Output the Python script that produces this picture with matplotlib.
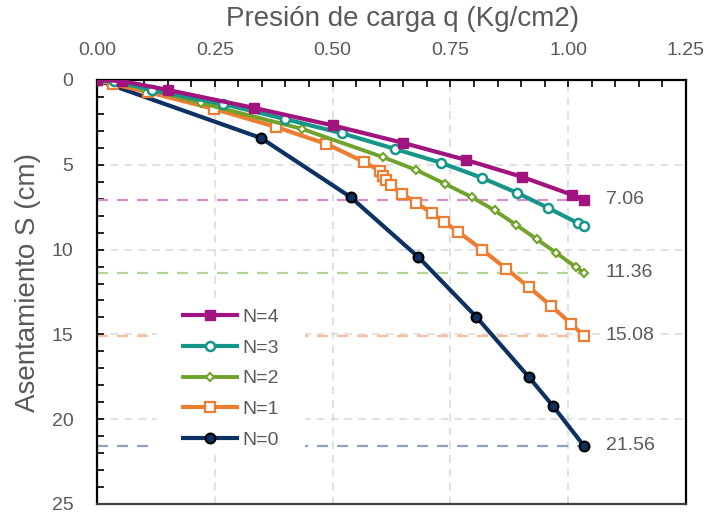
import matplotlib
matplotlib.use("Agg")
import matplotlib.pyplot as plt
from matplotlib.ticker import MultipleLocator
from matplotlib.patches import Rectangle

plt.rcParams['font.family'] = ['Liberation Sans', 'DejaVu Sans']

# Pressure q (Kg/cm2) and settlement S (cm) for each number of layers N
q_n4 = [0.0, 0.053, 0.151, 0.334, 0.501, 0.650, 0.784, 0.903, 1.009, 1.033]
s_n4 = [0.0, 0.06, 0.59, 1.65, 2.68, 3.71, 4.72, 5.72, 6.78, 7.06]

q_n3 = [0.0, 0.036, 0.117, 0.268, 0.399, 0.521, 0.633, 0.731, 0.818, 0.892, 0.958, 1.020, 1.033]
s_n3 = [0.0, 0.05, 0.59, 1.42, 2.30, 3.15, 4.07, 4.89, 5.78, 6.66, 7.55, 8.43, 8.61]

q_n2 = [0.0, 0.098, 0.221, 0.436, 0.606, 0.678, 0.739, 0.795, 0.844, 0.890, 0.933, 0.975, 1.016, 1.033]
s_n2 = [0.0, 0.47, 1.36, 2.89, 4.54, 5.31, 6.13, 6.90, 7.69, 8.55, 9.38, 10.20, 11.03, 11.36]

q_n1 = [0.0, 0.034, 0.108, 0.249, 0.380, 0.487, 0.567, 0.601, 0.606, 0.614, 0.623, 0.648,
        0.678, 0.710, 0.737, 0.767, 0.818, 0.869, 0.916, 0.963, 1.007, 1.033]
s_n1 = [0.0, 0.24, 0.71, 1.71, 2.77, 3.77, 4.83, 5.37, 5.66, 5.90, 6.19, 6.72,
        7.25, 7.84, 8.37, 8.96, 10.02, 11.14, 12.20, 13.30, 14.39, 15.08]

q_n0 = [0.0, 0.348, 0.538, 0.682, 0.805, 0.916, 0.967, 1.033]
s_n0 = [0.0, 3.42, 6.90, 10.44, 13.97, 17.50, 19.20, 21.56]

series_labels = ["N=4", "N=3", "N=2", "N=1", "N=0"]
marked_settlements = [7.06, 11.36, 15.08, 21.56]
marked_labels = ["7.06", "11.36", "15.08", "21.56"]

text_gray = "#595959"
c_n4, c_n3, c_n2, c_n1, c_n0 = "#A1137F", "#16968A", "#6FA32B", "#ED7D31", "#0B3262"
ref_colors = ["#D98FCB", "#B5D69A", "#F6BE98", "#8EA1BF"]

fig = plt.figure(figsize=(7.11, 5.15), dpi=100)
ax = fig.add_axes([97 / 711, 1 - 504 / 515, 589 / 711, 424 / 515])

ax.set_xlim(0, 1.25)
ax.set_ylim(25, 0)

# reference lines at the final settlement of the marked curves
q_end = q_n0[-1]
for s, col in zip(marked_settlements, ref_colors):
    ax.plot([0, q_end], [s, s], color=col, lw=1.6, dashes=(5, 4), zorder=2)

ax.plot(q_n0, s_n0, color=c_n0, lw=3, marker='o', ms=7, mfc=c_n0, mec='black', mew=1.6,
        label="N=0", zorder=5)
ax.plot(q_n1, s_n1, color=c_n1, lw=3, marker='s', ms=7, mfc='white', mec=c_n1, mew=1.6,
        label="N=1", zorder=6)
ax.plot(q_n2, s_n2, color=c_n2, lw=2.8, marker='D', ms=4, mfc='white', mec=c_n2, mew=1.5,
        label="N=2", zorder=7)
ax.plot(q_n3, s_n3, color=c_n3, lw=3, marker='o', ms=6.5, mfc='white', mec=c_n3, mew=1.8,
        label="N=3", zorder=8)
ax.plot(q_n4, s_n4, color=c_n4, lw=3, marker='s', ms=6.5, mfc=c_n4, mec=c_n4, mew=1,
        label="N=4", zorder=9)

for s, txt in zip(marked_settlements, marked_labels):
    ax.text(1.08, s, txt, ha='left', va='center', fontsize=14, color=text_gray,
            bbox=dict(facecolor='white', edgecolor='none', pad=2), zorder=10)

# axes styling
ax.xaxis.tick_top()
ax.xaxis.set_major_locator(MultipleLocator(0.25))
ax.xaxis.set_minor_locator(MultipleLocator(0.05))
ax.yaxis.set_major_locator(MultipleLocator(5))
ax.yaxis.set_minor_locator(MultipleLocator(1))
ax.xaxis.set_major_formatter(plt.FuncFormatter(lambda v, p: f"{v:.2f}"))
ax.yaxis.set_major_formatter(plt.FuncFormatter(lambda v, p: f"{v:.0f}"))
ax.tick_params(axis='both', which='both', direction='in', colors='black', width=1.2,
               labelcolor=text_gray, labelsize=14, length=5)
ax.tick_params(axis='x', which='major', pad=15)
ax.tick_params(axis='y', which='major', pad=17)
ax.tick_params(axis='x', which='both', top=True, bottom=False)
ax.tick_params(axis='y', which='both', left=True, right=False)

for side in ['top', 'left', 'right']:
    ax.spines[side].set_color('black')
    ax.spines[side].set_linewidth(1.6)
ax.spines['bottom'].set_color('#404040')
ax.spines['bottom'].set_linewidth(1.6)

ax.grid(True, which='major', color='#D9D9D9', lw=1.1, dashes=(5, 4), zorder=0)
ax.set_axisbelow(True)

# white backing behind the legend entries
ax.add_patch(Rectangle((0.102, 0.1226), 0.2513, 0.3585, transform=ax.transAxes,
                       facecolor='white', edgecolor='none', zorder=4))

handles, labels = ax.get_legend_handles_labels()
order = [labels.index(l) for l in series_labels]
leg = ax.legend([handles[i] for i in order], [labels[i] for i in order],
                loc='upper left', bbox_to_anchor=(0.146, 0.462), numpoints=1,
                frameon=False, fontsize=14, handlelength=2.8, handletextpad=0.25,
                labelspacing=0.68, borderpad=0, borderaxespad=0)
for t in leg.get_texts():
    t.set_color(text_gray)
leg.set_zorder(5)

fig.text(403 / 711, 1 - 19 / 515, "Presión de carga q (Kg/cm2)", ha='center', va='center',
         fontsize=20, color=text_gray)
fig.text(28 / 711, 1 - 283 / 515, "Asentamiento S (cm)", ha='center', va='center',
         rotation=90, fontsize=20, color=text_gray)

fig.savefig("out.png", dpi=100)
